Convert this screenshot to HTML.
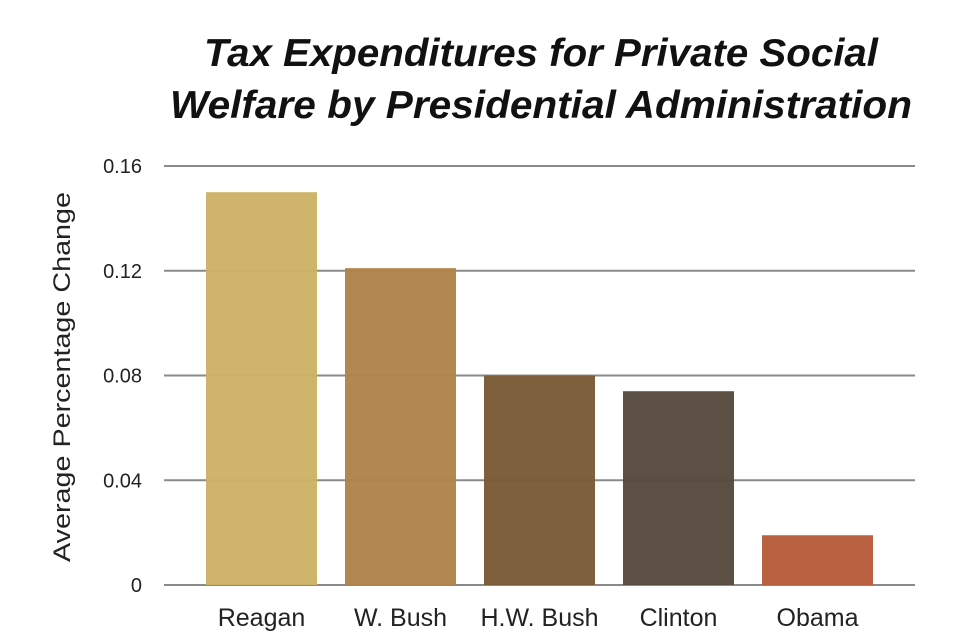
<!DOCTYPE html>
<html><head><meta charset="utf-8"><style>
body{margin:0;background:#fff;width:980px;height:637px;overflow:hidden;font-family:"Liberation Sans",sans-serif}
</style></head><body>
<svg width="980" height="637" id="c">
<text x="541" y="66" text-anchor="middle" font-size="39" font-weight="bold" font-style="italic" fill="#111" textLength="674" lengthAdjust="spacingAndGlyphs">Tax Expenditures for Private Social</text>
<text x="541" y="118" text-anchor="middle" font-size="39" font-weight="bold" font-style="italic" fill="#111" textLength="742" lengthAdjust="spacingAndGlyphs">Welfare by Presidential Administration</text>
<text transform="translate(70,377) rotate(-90)" text-anchor="middle" font-size="24" fill="#222" textLength="370" lengthAdjust="spacingAndGlyphs">Average Percentage Change</text>
<g id="grid"></g><g id="bars"></g><g id="labels"></g>
</svg>
<script>
const categories=["Reagan","W. Bush","H.W. Bush","Clinton","Obama"];
const values=[0.150,0.121,0.080,0.074,0.019];
const colors=["#cdb266","#b0844a","#7a5c36","#574a3e","#b85c3c"];
const ticks=[0,0.04,0.08,0.12,0.16];
const tickLabels=["0","0.04","0.08","0.12","0.16"];
const NS="http://www.w3.org/2000/svg";
const y0=585,y1=166,vmax=0.16,xl=164,xr=915;
const y=v=>y0-(v/vmax)*(y0-y1);
const step=139,bw=111,x0=206;
const x=i=>x0+i*step;
const grid=document.getElementById('grid'),bars=document.getElementById('bars'),labels=document.getElementById('labels');
ticks.forEach((t,i)=>{
const l=document.createElementNS(NS,'line');


l.setAttribute('x1',xl);l.setAttribute('x2',xr);l.setAttribute('y1',y(t));l.setAttribute('y2',y(t));
l.setAttribute('stroke','#8a8a8a');l.setAttribute('stroke-width','2');
grid.appendChild(l);
const tx=document.createElementNS(NS,'text');


tx.setAttribute('x',142);tx.setAttribute('y',y(t)+7);tx.setAttribute('text-anchor','end');
tx.setAttribute('font-size','20');tx.setAttribute('fill','#222');
tx.textContent=tickLabels[i];labels.appendChild(tx);
});
categories.forEach((c,i)=>{
const r=document.createElementNS(NS,'rect');


r.setAttribute('x',x(i));r.setAttribute('width',bw);r.setAttribute('y',y(values[i]));r.setAttribute('height',y0-y(values[i]));
r.setAttribute('fill',colors[i]);r.setAttribute('opacity','0.97');
bars.appendChild(r);
const t=document.createElementNS(NS,'text');


t.setAttribute('x',x(i)+bw/2);t.setAttribute('y',626);t.setAttribute('text-anchor','middle');
t.setAttribute('font-size','25');t.setAttribute('fill','#222');
t.textContent=c;labels.appendChild(t);
});
</script>
</body></html>
